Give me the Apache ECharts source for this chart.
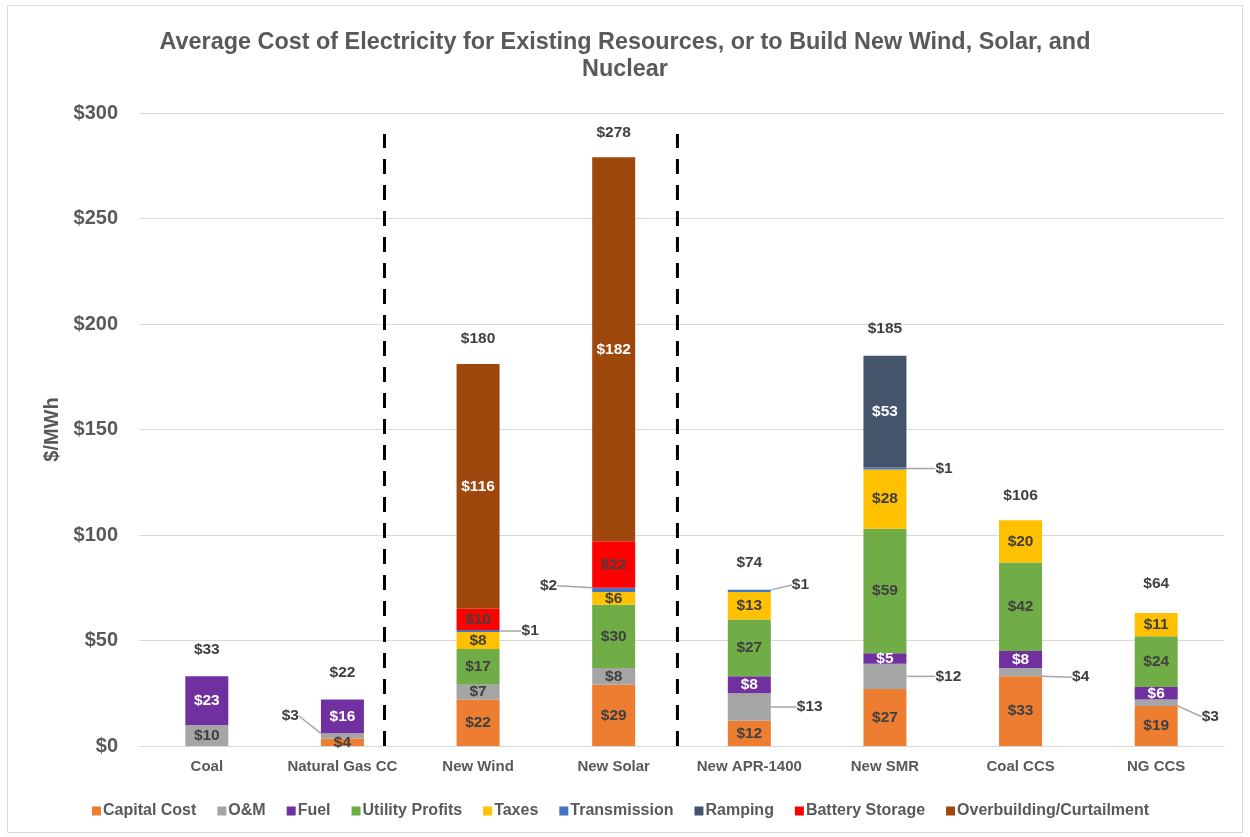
<!DOCTYPE html>
<html>
<head>
<meta charset="utf-8">
<script src="https://cdn.jsdelivr.net/npm/echarts@6/dist/echarts.min.js"></script>
<style>
html,body{margin:0;padding:0;background:#fff;}
#chart{width:1250px;height:837px;}
</style>
</head>
<body>
<div id="chart"></div>
<script>
// ---- data ----
const categories = ['Coal', 'Natural Gas CC', 'New Wind', 'New Solar', 'New APR-1400', 'New SMR', 'Coal CCS', 'NG CCS'];
const capitalCost    = [null, 3.5, 22, 29, 12, 27, 33, 19];
const oAndM          = [10, 2.5, 7, 8, 13, 12, 4, 3];
const fuel           = [23, 16, null, null, 8, 5, 8, 6];
const utilityProfits = [null, null, 17, 30, 27, 59, 42, 24];
const taxes          = [null, null, 8, 6, 13, 28, 20, 11];
const transmission   = [null, null, 1, 2, 1, 1, null, null];
const ramping        = [null, null, null, null, null, 53, null, null];
const batteryStorage = [null, null, 10, 22, null, null, null, null];
const overbuilding   = [null, null, 116, 182, null, null, null, null];
const totals         = [33, 22, 180, 278, 74, 185, 106, 64];
const yTicks = [0, 50, 100, 150, 200, 250, 300];
// dashed divider positions (in category units, 0 = left edge of the first category)
const dividers = [1.81, 3.97];
const dividerTop = 290;

// ---- styling ----
const seriesDefs = [
  {name: 'Capital Cost', data: capitalCost, color: '#ED7D31', label: '#404040'},
  {name: 'O&M', data: oAndM, color: '#A5A5A5', label: '#404040'},
  {name: 'Fuel', data: fuel, color: '#7030A0', label: '#ffffff'},
  {name: 'Utility Profits', data: utilityProfits, color: '#70AD47', label: '#404040'},
  {name: 'Taxes', data: taxes, color: '#FFC000', label: '#404040'},
  {name: 'Transmission', data: transmission, color: '#4472C4', label: '#404040'},
  {name: 'Ramping', data: ramping, color: '#44546A', label: '#ffffff'},
  {name: 'Battery Storage', data: batteryStorage, color: '#FF0000', label: '#404040'},
  {name: 'Overbuilding/Curtailment', data: overbuilding, color: '#9E480E', label: '#ffffff'}
];
const callouts = [
  {series: 'O&M', index: 1, side: 'left', gap: 22, dy: -20},
  {series: 'Transmission', index: 2, side: 'right', gap: 22, dy: 0},
  {series: 'Transmission', index: 3, side: 'left', gap: 35, dy: -4},
  {series: 'Transmission', index: 4, side: 'right', gap: 21, dy: -6},
  {series: 'O&M', index: 4, side: 'right', gap: 26, dy: 0},
  {series: 'Transmission', index: 5, side: 'right', gap: 29, dy: 0},
  {series: 'O&M', index: 5, side: 'right', gap: 29, dy: 0},
  {series: 'O&M', index: 6, side: 'right', gap: 30, dy: 5},
  {series: 'O&M', index: 7, side: 'right', gap: 24, dy: 14}
];
function findCallout(name, idx) {
  return callouts.find(c => c.series === name && c.index === idx);
}

const FONT = 'Liberation Sans, Arial, sans-serif';
const BAR_W = 43;
const LABEL_SIZE = 15.5;

const series = seriesDefs.map(def => ({
  name: def.name,
  type: 'bar',
  stack: 'cost',
  barWidth: BAR_W,
  itemStyle: {color: def.color},
  data: def.data.map((v, i) => {
    const c = findCallout(def.name, i);
    if (c) return {value: v, labelLine: {show: true}, label: {color: '#404040'}};
    return v;
  }),
  label: {
    show: true,
    position: 'inside',
    color: def.label,
    fontFamily: FONT,
    fontWeight: 'bold',
    fontSize: LABEL_SIZE,
    formatter: p => (p.value ? '$' + Math.round(p.value) : '')
  },
  labelLine: {
    show: false,
    lineStyle: {color: '#A6A6A6', width: 1.5}
  },
  labelLayout: function (params) {
    const c = findCallout(def.name, params.dataIndex);
    if (!c) return {};
    const r = params.rect;
    const cy = r.y + r.height / 2 + c.dy;
    if (c.side === 'right') {
      return {x: r.x + r.width + c.gap, y: cy, align: 'left', verticalAlign: 'middle'};
    }
    return {x: r.x - c.gap, y: cy, align: 'right', verticalAlign: 'middle'};
  },
  emphasis: {disabled: true}
}));

series.push({
  name: 'Total',
  type: 'bar',
  barWidth: BAR_W,
  barGap: '-100%',
  z: 0,
  silent: true,
  itemStyle: {color: 'rgba(0,0,0,0)'},
  data: totals,
  label: {
    show: true,
    position: 'top',
    distance: 19,
    color: '#404040',
    fontFamily: FONT,
    fontWeight: 'bold',
    fontSize: LABEL_SIZE,
    formatter: p => '$' + p.value
  }
});

dividers.forEach((d, k) => {
  series.push({
    name: 'divider' + k,
    type: 'line',
    xAxisIndex: 1,
    yAxisIndex: 0,
    symbol: 'none',
    silent: true,
    z: 5,
    lineStyle: {color: '#000000', width: 3, type: [15, 11]},
    data: [[d, 0], [d, dividerTop]]
  });
});

const chart = echarts.init(document.getElementById('chart'), null, {renderer: 'canvas'});
chart.setOption({
  animation: false,
  backgroundColor: '#ffffff',
  title: {
    text: 'Average Cost of Electricity for Existing Resources, or to Build New Wind, Solar, and\nNuclear',
    left: 'center',
    top: 24,
    textStyle: {
      fontFamily: FONT,
      fontWeight: 'bold',
      fontSize: 23.4,
      lineHeight: 27,
      color: '#595959'
    }
  },
  graphic: [{
    type: 'rect',
    shape: {x: 7.5, y: 5.5, width: 1235, height: 827},
    style: {fill: 'none', stroke: '#D9D9D9', lineWidth: 1},
    silent: true
  }],
  legend: {
    data: seriesDefs.map(d => d.name),
    top: 798,
    left: 87,
    icon: 'rect',
    itemWidth: 9,
    itemHeight: 9,
    itemGap: 21,
    textStyle: {
      fontFamily: FONT,
      fontWeight: 'bold',
      fontSize: 16,
      color: '#595959',
      padding: [0, 0, 0, -3]
    }
  },
  grid: {left: 139, right: 26, top: 113, bottom: 91, containLabel: false},
  xAxis: [{
    type: 'category',
    data: categories,
    axisTick: {show: false},
    axisLine: {lineStyle: {color: '#D9D9D9', width: 1}},
    axisLabel: {
      interval: 0,
      fontFamily: FONT,
      fontWeight: 'bold',
      fontSize: 15,
      color: '#595959',
      margin: 13
    }
  }, {
    type: 'value',
    min: 0,
    max: categories.length,
    show: false
  }],
  yAxis: {
    type: 'value',
    min: yTicks[0],
    max: yTicks[yTicks.length - 1],
    interval: yTicks[1] - yTicks[0],
    name: '$/MWh',
    nameLocation: 'middle',
    nameGap: 76,
    nameTextStyle: {
      fontFamily: FONT,
      fontWeight: 'bold',
      fontSize: 20,
      color: '#595959'
    },
    axisLine: {show: false},
    axisTick: {show: false},
    splitLine: {lineStyle: {color: '#D9D9D9', width: 1}},
    axisLabel: {
      fontFamily: FONT,
      fontWeight: 'bold',
      fontSize: 20,
      color: '#595959',
      margin: 21,
      formatter: v => '$' + v
    }
  },
  series: series
});
</script>
</body>
</html>
